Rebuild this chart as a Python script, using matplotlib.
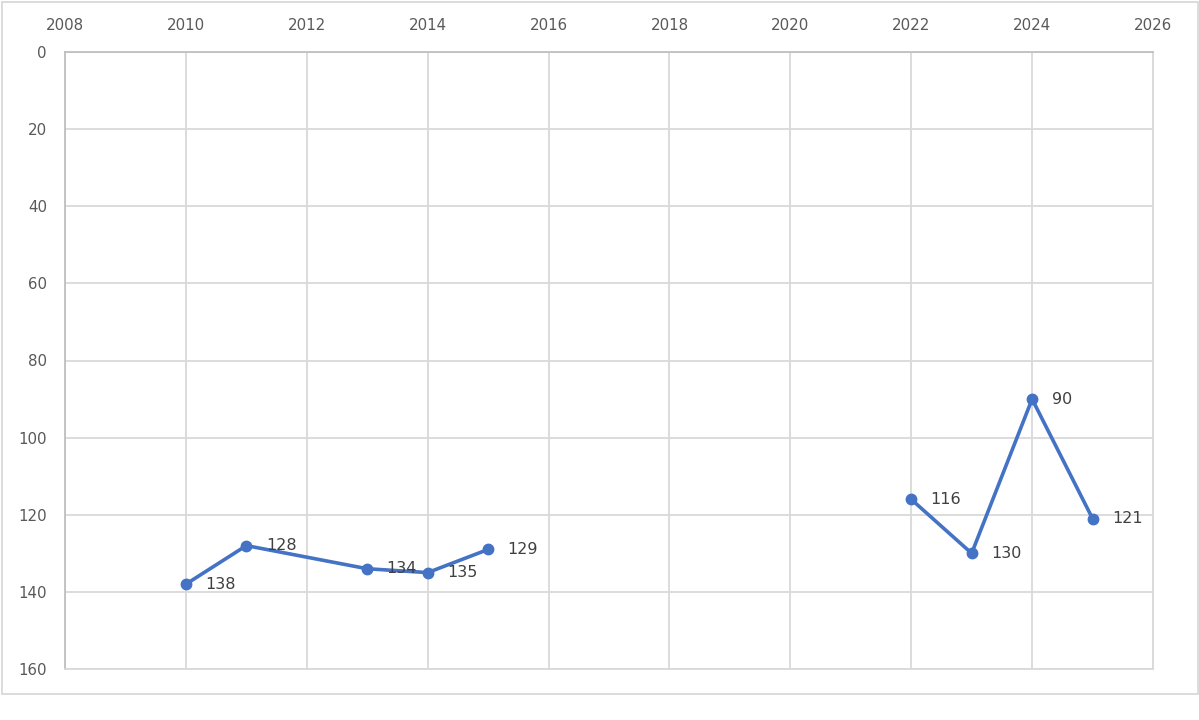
import matplotlib
matplotlib.use("Agg")
import matplotlib.pyplot as plt
from matplotlib.patches import Rectangle

# two runs of yearly values (gap between 2015 and 2022)
years_a = [2010, 2011, 2013, 2014, 2015]
ranks_a = [138, 128, 134, 135, 129]
years_b = [2022, 2023, 2024, 2025]
ranks_b = [116, 130, 90, 121]

x_ticks = list(range(2008, 2027, 2))
y_ticks = list(range(0, 161, 20))

LINE = "#4472C4"
GRID = "#d9d9d9"
AXIS = "#bfbfbf"
TEXT = "#595959"

plt.rcParams["font.family"] = ["DejaVu Sans"]

fig = plt.figure(figsize=(11.99, 7.2), dpi=100)
ax = fig.add_axes([65 / 1199, 1 - 669 / 720, (1153 - 65) / 1199, (669 - 52) / 720])

for xs, ys in [(years_a, ranks_a), (years_b, ranks_b)]:
    ax.plot(xs, ys, color=LINE, lw=2.6, marker="o", ms=7.5, zorder=3)
    for x, y in zip(xs, ys):
        ax.annotate(str(y), (x, y), xytext=(14, 0), textcoords="offset points",
                    ha="left", va="center", fontsize=11.5, color="#404040", zorder=4)

ax.set_xlim(2008, 2026)
ax.set_ylim(160, 0)
ax.set_xticks(x_ticks)
ax.set_yticks(y_ticks)
ax.xaxis.tick_top()
ax.tick_params(axis="both", length=0, labelsize=10.8, labelcolor=TEXT)
ax.tick_params(axis="x", pad=14)
ax.tick_params(axis="y", pad=13)

ax.grid(True, color=GRID, lw=1.3)
ax.set_axisbelow(True)
for side in ["right", "bottom"]:
    ax.spines[side].set_color(GRID)
    ax.spines[side].set_linewidth(1.3)
for side in ["left", "top"]:
    ax.spines[side].set_color(AXIS)
    ax.spines[side].set_linewidth(1.3)

# chart border
fig.patches.append(Rectangle((1.5 / 1199, 1 - 694 / 720), 1196 / 1199, 692 / 720,
                             transform=fig.transFigure, fill=False,
                             edgecolor=GRID, lw=1.3))

fig.savefig("out.png", dpi=100)
